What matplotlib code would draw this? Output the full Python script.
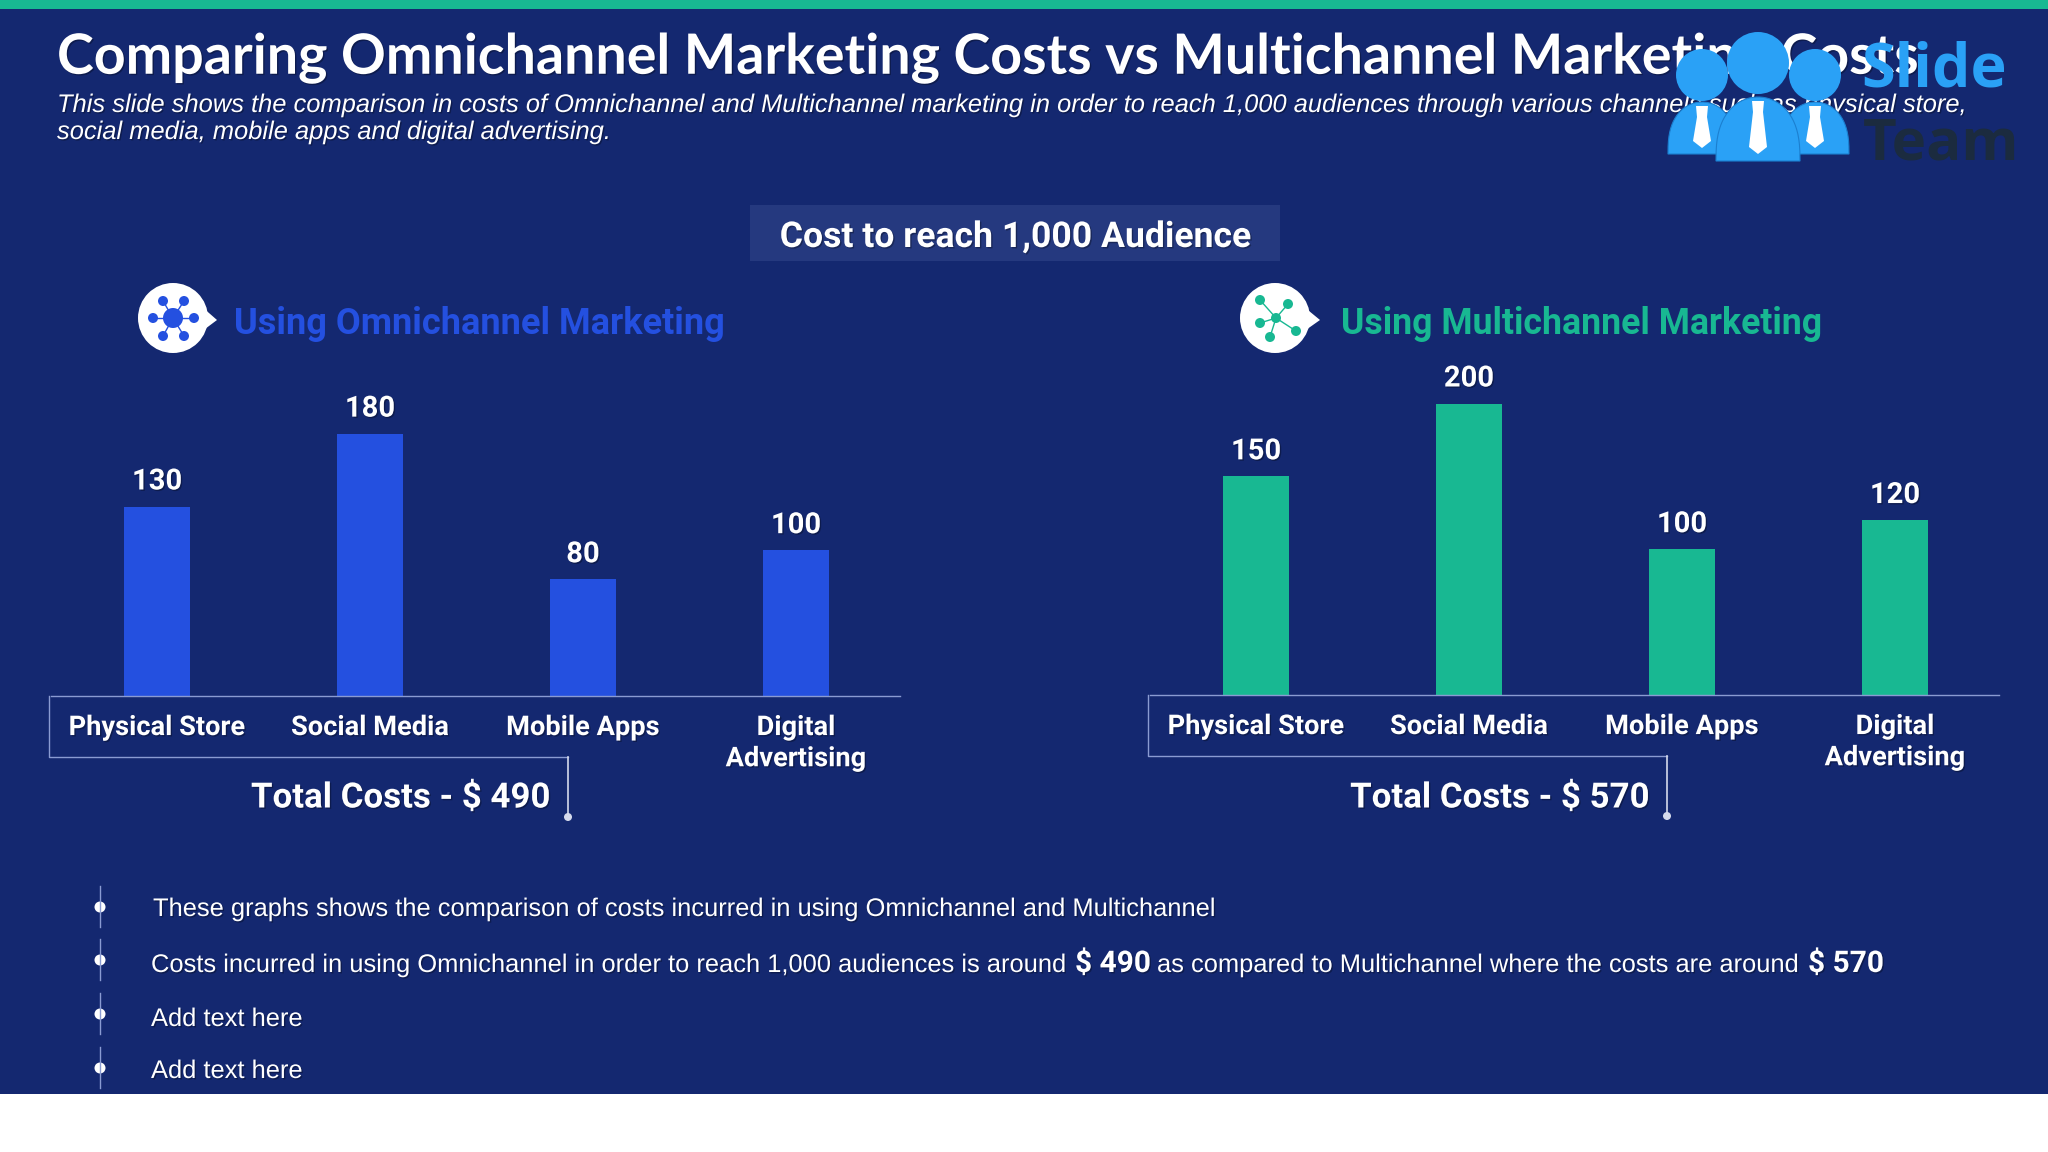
import numpy as np
import matplotlib
matplotlib.use('Agg')
import matplotlib.pyplot as plt
import matplotlib.patheffects as pe
from matplotlib.patches import Circle, Rectangle, Polygon

categories = ['Physical Store', 'Social Media', 'Mobile Apps', 'Digital\nAdvertising']
omni_costs = [130, 180, 80, 100]
multi_costs = [150, 200, 100, 120]

bullets = ['These graphs shows the comparison of costs incurred in using Omnichannel and Multichannel',
           'Add text here', 'Add text here']

NAVY = '#142870'
BLUE = '#2450E0'
TEAL = '#18B892'
LINE = '#8A9BD2'
W, H = 2048, 1152

plt.rcParams['font.family'] = ['Liberation Sans', 'DejaVu Sans']
shadow = [pe.withSimplePatchShadow(offset=(1, -1), alpha=0.3, shadow_rgbFace='black')]

fig = plt.figure(figsize=(W / 100, H / 100), dpi=100, facecolor='white')

# background layer, in pixel coords
bg = fig.add_axes([0, 0, 1, 1], zorder=0)
bg.set_xlim(0, W)
bg.set_ylim(H, 0)
bg.axis('off')
bg.add_patch(Rectangle((0, 0), W, 1094, color=NAVY, lw=0))
bg.add_patch(Rectangle((0, 0), W, 9, color=TEAL, lw=0))

bg.text(57, 58, 'Comparing Omnichannel Marketing Costs vs Multichannel Marketing Costs',
        family='Lato', weight='bold', fontsize=40, color='white', va='center', path_effects=shadow)
bg.text(57, 105, 'This slide shows the comparison in costs of Omnichannel and Multichannel marketing in order to reach 1,000 audiences through various channels such as physical store,',
        style='italic', fontsize=18.35, color='white', va='center', path_effects=shadow)
bg.text(57, 132, 'social media, mobile apps and digital advertising.',
        style='italic', fontsize=18.35, color='white', va='center', path_effects=shadow)

bg.add_patch(Rectangle((750, 205), 530, 56, color='#25397F', lw=0))
bg.text(1015, 237, 'Cost to reach 1,000 Audience', family='Roboto', weight='bold', fontsize=25.6,
        color='white', ha='center', va='center', path_effects=shadow)


def speech_icon(cx, tipx, nodes, hub_r, node_r, color):
    bg.add_patch(Circle((cx, 318), 35, color='white', lw=0))
    bg.add_patch(Polygon([(cx + 28, 306), (tipx, 320), (cx + 28, 332)], color='white', lw=0))
    hub = nodes[0]
    for n in nodes[1:]:
        bg.plot([hub[0], n[0]], [hub[1], n[1]], color=color, lw=1, zorder=3)
    bg.add_patch(Circle(hub, hub_r, color=color, lw=0, zorder=4))
    for n in nodes[1:]:
        bg.add_patch(Circle(n, node_r, color=color, lw=0, zorder=4))


speech_icon(173, 217, [(173, 318), (163, 301), (184, 301), (153, 318), (194, 318), (163, 336), (184, 336)], 10, 5, BLUE)
speech_icon(1275, 1320, [(1276, 318), (1260, 300), (1288, 304), (1260, 323), (1296, 331), (1270, 337)], 5, 5, TEAL)

bg.text(234, 324, 'Using Omnichannel Marketing', family='Roboto', weight='bold', fontsize=26, color=BLUE, va='center')
bg.text(1341, 324, 'Using Multichannel Marketing', family='Roboto', weight='bold', fontsize=25.7, color=TEAL, va='center')


def chart(x0, x1, base, values, color, total, stem):
    # axes bottom sits on the baseline, 330 px tall
    ax = fig.add_axes([(x0 + 1.5) / W, 1 - base / H, (x1 - x0) / W, 330 / H], zorder=1)
    ax.patch.set_alpha(0)
    bars = ax.bar(range(len(values)), values, width=0.313, color=color)
    ax.bar_label(bars, padding=8, color='white', fontsize=21, family='Roboto', weight='bold', path_effects=shadow)
    ax.set_xlim(-0.5, 3.5)
    ax.set_ylim(0, 226.5)
    ax.set_yticks([])
    ax.set_xticks(range(len(values)))
    ax.set_xticklabels(categories, color='white', fontsize=19.6, family='Roboto', weight='bold', linespacing=1.2,
                       path_effects=shadow)
    ax.tick_params(axis='x', length=0, pad=13)
    for s in ['top', 'left', 'right']:
        ax.spines[s].set_visible(False)
    ax.spines['bottom'].set_color(LINE)
    ax.spines['bottom'].set_linewidth(1)
    ax.spines['bottom'].set_bounds(-0.5, 3.49)
    # bracket under the labels
    bg.plot([x0, x0, stem], [base, base + 61, base + 61], color=LINE, lw=1)
    bg.plot([stem, stem], [base + 61, base + 120], color='#D5DAEC', lw=1.2)
    bg.add_patch(Circle((stem, base + 121), 4, color='#D5DAEC', lw=0))
    bg.text(stem - 18, 798, 'Total Costs - $ %d' % total, family='Roboto', weight='bold', fontsize=25.1,
            color='white', ha='right', va='center', path_effects=shadow)


chart(49, 901, 696, omni_costs, BLUE, sum(omni_costs), 568)
chart(1148, 2000, 695, multi_costs, TEAL, sum(multi_costs), 1667)

# bullets
for y in [907, 960, 1014, 1068]:
    bg.plot([100, 100], [y - 21, y + 20], color=LINE, lw=1)
    bg.add_patch(Circle((100, y), 5.5, color='white', lw=0))

kw = dict(color='white', va='center', path_effects=shadow)
bg.text(153, 909, bullets[0], fontsize=18.35, **kw)
bg.text(151, 965, 'Costs incurred in using Omnichannel in order to reach 1,000 audiences is around', fontsize=18.35, **kw)
bg.text(1075, 964, '$ 490', fontsize=21.5, family='Roboto', weight='bold', **kw)
bg.text(1157, 965, 'as compared to Multichannel where the costs are around', fontsize=18.35, **kw)
bg.text(1808, 964, '$ 570', fontsize=21.5, family='Roboto', weight='bold', **kw)
bg.text(151, 1019, bullets[1], fontsize=18.35, **kw)
bg.text(151, 1071, bullets[2], fontsize=18.35, **kw)

# logo sits on top of everything
top = fig.add_axes([0, 0, 1, 1], zorder=2)
top.set_xlim(0, W)
top.set_ylim(H, 0)
top.axis('off')
top.patch.set_alpha(0)
SKY = '#2AA1F6'


def person(cx, head_y, head_r, body_top, body_bot, half, tie_bot):
    top.add_patch(Circle((cx, head_y), head_r, color=SKY, lw=0, zorder=2))
    t = np.linspace(np.pi, 0, 40)
    xs = cx + half * np.cos(t)
    ys = body_bot - (body_bot - body_top) * np.sin(t) ** 0.75
    top.add_patch(Polygon(np.column_stack([xs, ys]), color=SKY, ec='#1B7FD0', lw=0.8, zorder=2))
    tie = [(cx - 6, body_top + 4), (cx + 6, body_top + 4), (cx + 5, body_top + 15), (cx + 9, tie_bot - 7),
           (cx, tie_bot), (cx - 9, tie_bot - 7), (cx - 5, body_top + 15)]
    top.add_patch(Polygon(tie, color='white', lw=0, zorder=3))


person(1702, 75, 26, 102, 154, 34, 148)
person(1815, 75, 26, 102, 154, 34, 148)
person(1758, 63, 31, 97, 161, 42, 154)
top.text(1861, 71, 'Slide', family='Open Sans', weight='bold', fontsize=44, color=SKY, va='center')
top.text(1863, 144, 'Team', family='Open Sans', weight='bold', fontsize=42, color='#1B2B3F', va='center')

fig.savefig('out.png', dpi=100)
